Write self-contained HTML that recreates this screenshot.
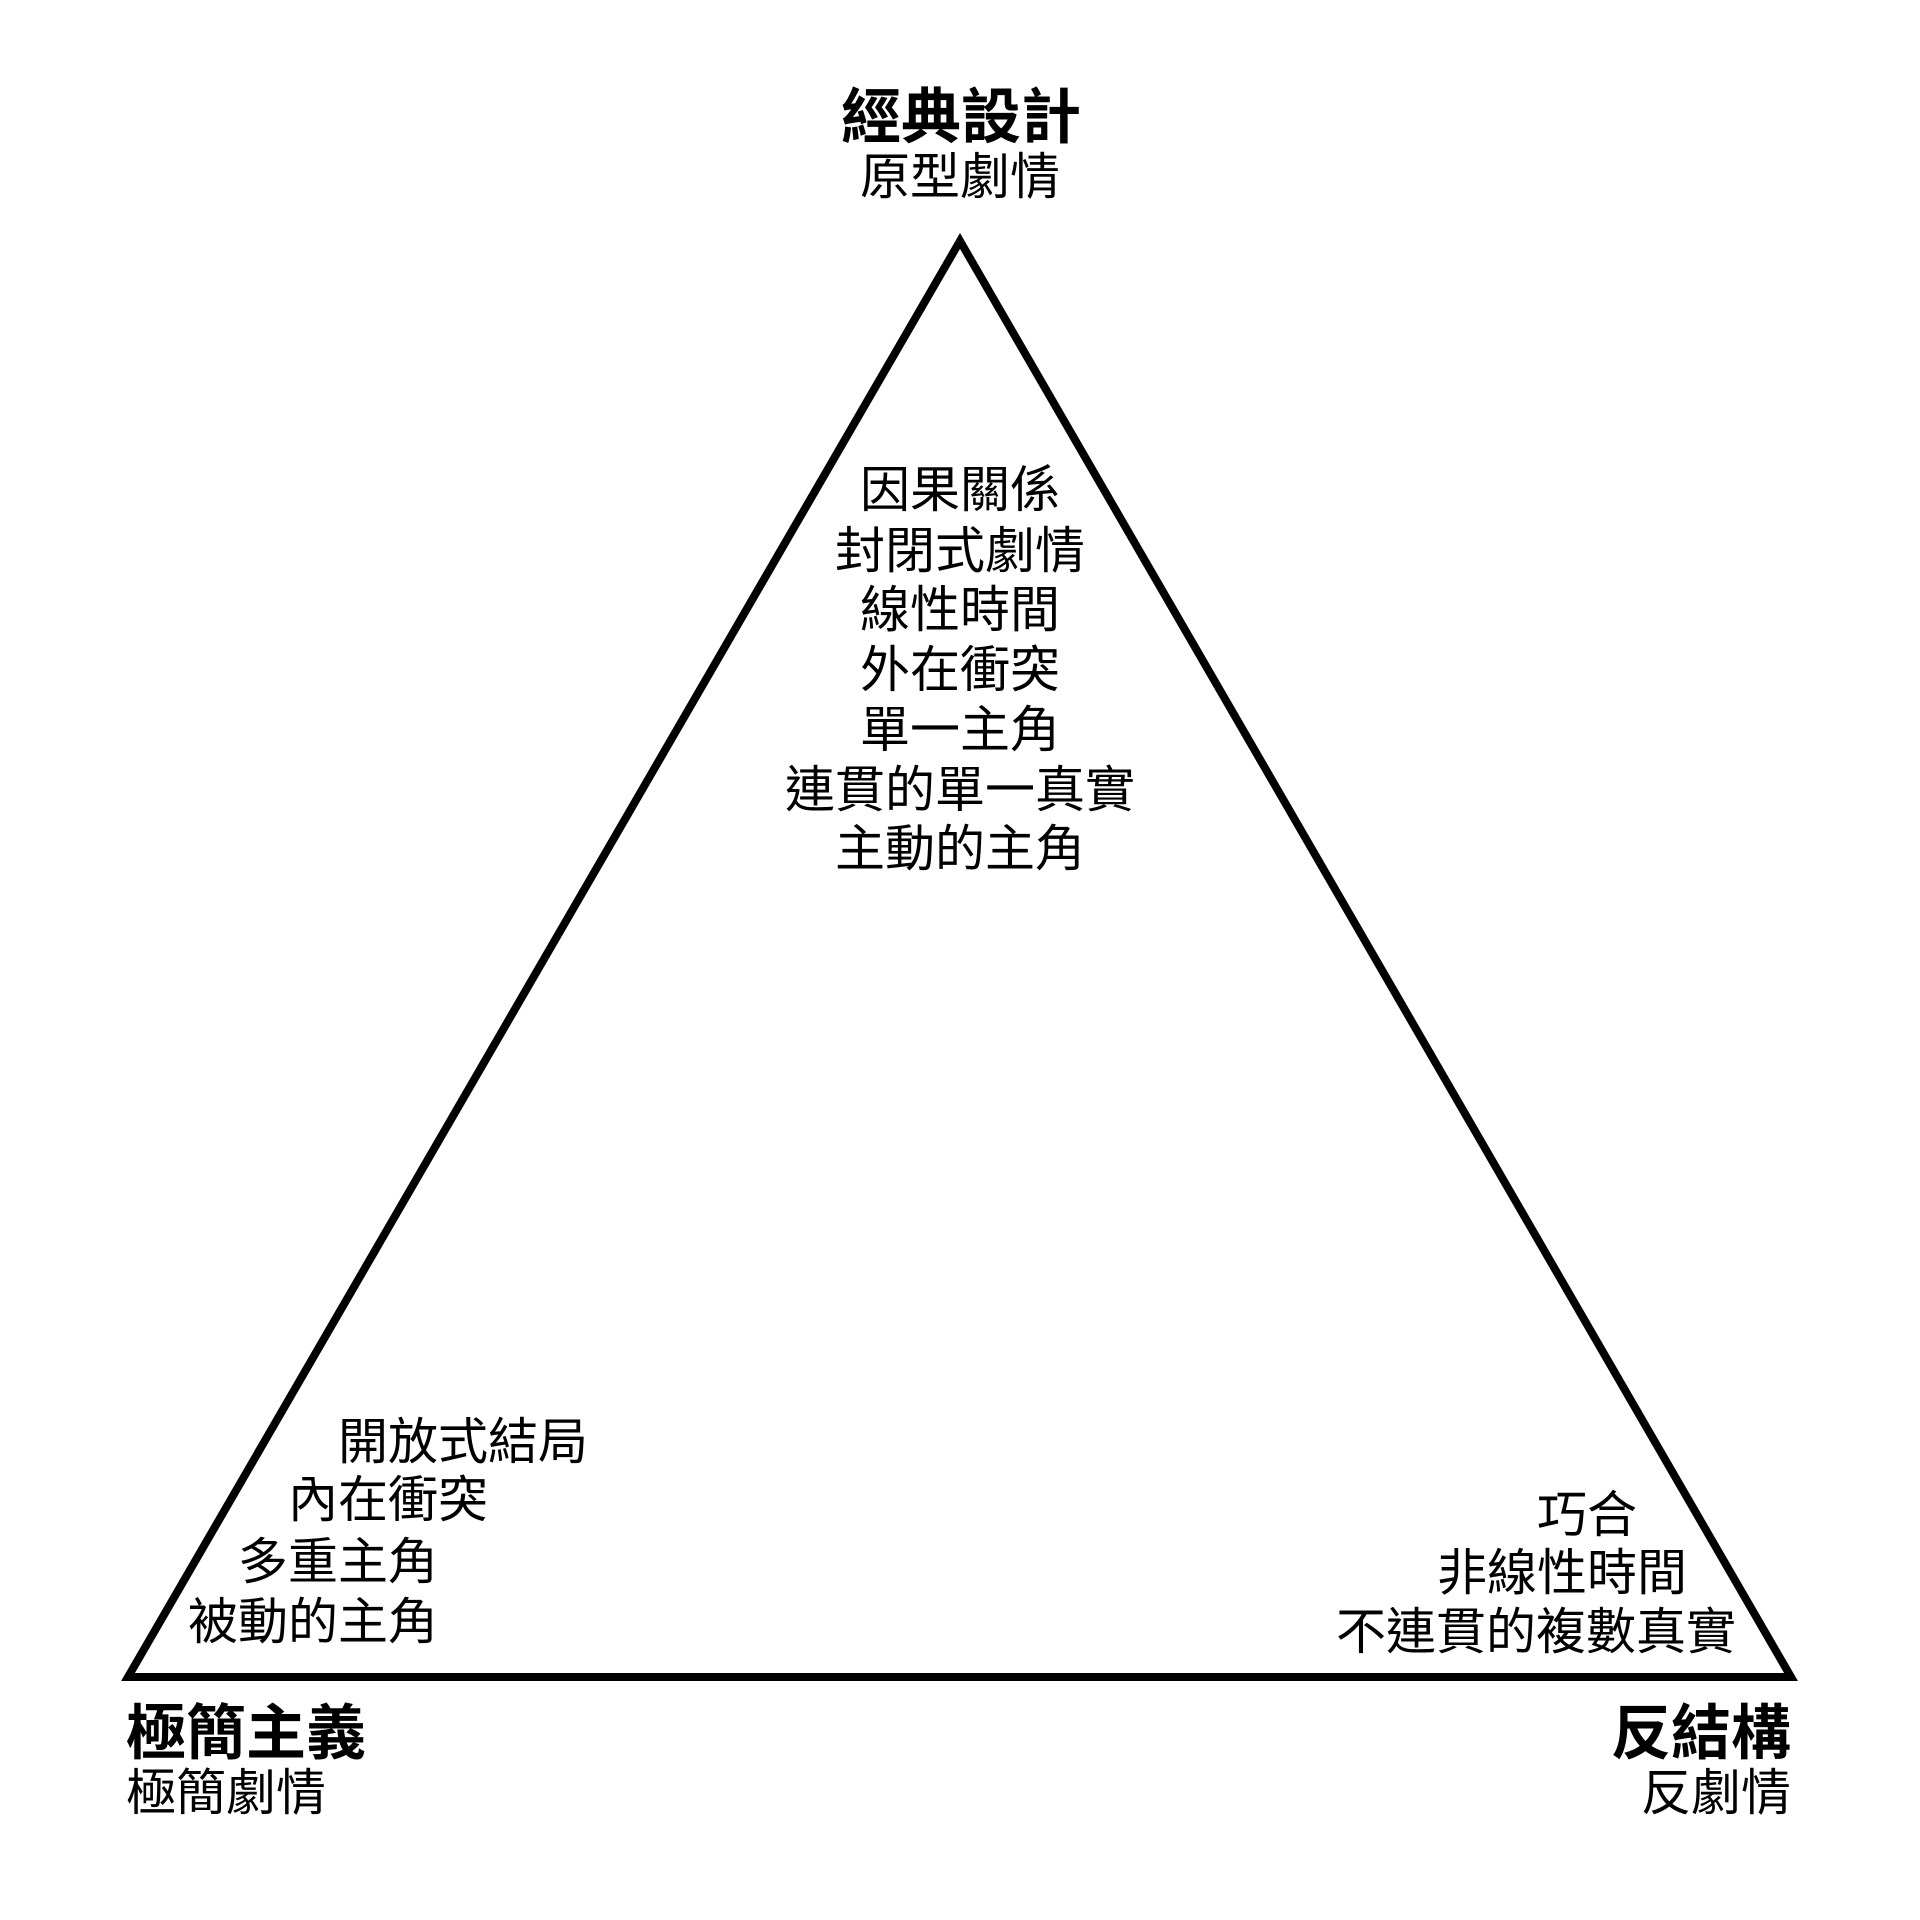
<!DOCTYPE html>
<html><head><meta charset="utf-8"><style>
html,body{margin:0;padding:0;background:#fff;}
body{width:1920px;height:1920px;position:relative;overflow:hidden;font-family:"Liberation Sans","Noto Sans CJK TC",sans-serif;color:#000;}
.t{position:absolute;white-space:nowrap;line-height:1;}
.b{font-weight:bold;font-size:60px;}
.r{font-size:50px;}
.c{transform:translateX(-50%);}
</style></head><body>
<svg width="1920" height="1920" style="position:absolute;left:0;top:0">
<polygon points="960,241 128,1677 1791,1677" fill="none" stroke="#000" stroke-width="8" stroke-linejoin="miter"/>
</svg>
<div class="t b c" style="left:961px;top:88px">經典設計</div>
<div class="t r c" style="left:960px;top:152px">原型劇情</div>

<div class="t r c" style="left:960px;top:465px">因果關係</div>
<div class="t r c" style="left:960px;top:526px">封閉式劇情</div>
<div class="t r c" style="left:960px;top:585px">線性時間</div>
<div class="t r c" style="left:960px;top:645px">外在衝突</div>
<div class="t r c" style="left:960px;top:705px">單一主角</div>
<div class="t r c" style="left:960px;top:765px">連貫的單一真實</div>
<div class="t r c" style="left:960px;top:824px">主動的主角</div>

<div class="t r" style="left:338px;top:1417px">開放式結局</div>
<div class="t r" style="left:288px;top:1475px">內在衝突</div>
<div class="t r" style="left:238px;top:1537px">多重主角</div>
<div class="t r" style="left:188px;top:1597px">被動的主角</div>

<div class="t r" style="left:1537px;top:1490px">巧合</div>
<div class="t r" style="left:1437px;top:1548px">非線性時間</div>
<div class="t r" style="left:1336px;top:1607px">不連貫的複數真實</div>

<div class="t b" style="left:126px;top:1704px">極簡主義</div>
<div class="t r" style="left:126px;top:1768px">極簡劇情</div>

<div class="t b" style="right:129px;top:1704px">反結構</div>
<div class="t r" style="right:129px;top:1768px">反劇情</div>
</body></html>
